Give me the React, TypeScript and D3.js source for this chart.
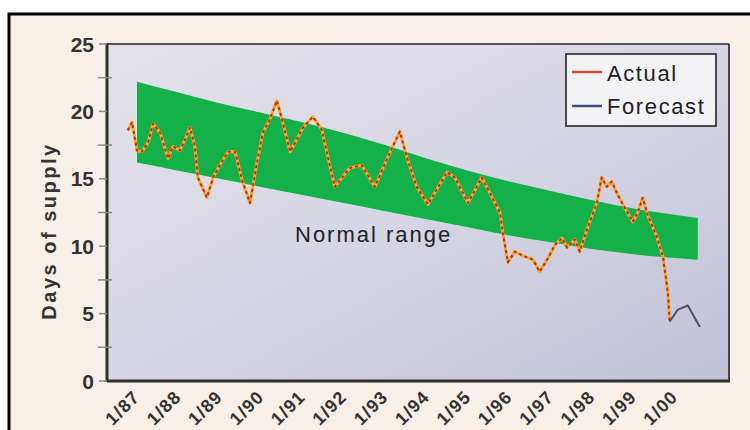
import React from "react";
import * as d3 from "d3";

const yTicks = [0, 5, 10, 15, 20, 25];
const yMinorTicks = [2.5, 7.5, 12.5, 17.5, 22.5];
const xTickYears = [1987, 1988, 1989, 1990, 1991, 1992, 1993, 1994, 1995, 1996, 1997, 1998, 1999, 2000];
const xTickLabels = ["1/87", "1/88", "1/89", "1/90", "1/91", "1/92", "1/93", "1/94", "1/95", "1/96", "1/97", "1/98", "1/99", "1/00"];

const bandYears = [1987, 1988, 1989, 1990, 1991, 1992, 1993, 1994, 1995, 1996, 1997, 1998, 1999, 2000.55];
const bandTop = [22.2, 21.4, 20.6, 19.9, 19.2, 18.4, 17.5, 16.5, 15.6, 14.8, 14.1, 13.4, 12.8, 12.1];
const bandBottom = [16.2, 15.6, 15.0, 14.4, 13.8, 13.2, 12.6, 12.0, 11.4, 10.8, 10.3, 9.8, 9.4, 9.0];

const actualYears = [
  1986.78, 1986.88, 1987.0, 1987.12, 1987.27, 1987.39, 1987.56, 1987.75, 1987.87, 1988.04,
  1988.16, 1988.28, 1988.4, 1988.47, 1988.69, 1988.84, 1989.0, 1989.2, 1989.37, 1989.54,
  1989.73, 1989.9, 1990.04, 1990.21, 1990.38, 1990.53, 1990.7, 1990.86, 1991.01, 1991.25,
  1991.47, 1991.59, 1991.78, 1992.14, 1992.43, 1992.75, 1993.06, 1993.35, 1993.52, 1993.76,
  1994.03, 1994.49, 1994.68, 1995.0, 1995.33, 1995.77, 1995.84, 1995.96, 1996.13, 1996.32,
  1996.57, 1996.73, 1996.93, 1997.1, 1997.27, 1997.39, 1997.58, 1997.7, 1997.87, 1998.11,
  1998.23, 1998.35, 1998.47, 1998.62, 1998.74, 1998.98, 1999.1, 1999.22, 1999.34, 1999.56,
  1999.71, 1999.83, 1999.87,
];
const actualValues = [
  18.6, 19.2, 17.1, 17.0, 17.7, 19.1, 18.4, 16.5, 17.4, 17.1,
  17.9, 18.8, 17.4, 15.1, 13.6, 15.1, 16.0, 17.0, 17.0, 14.9,
  13.2, 16.2, 18.4, 19.4, 20.8, 19.1, 17.0, 17.9, 18.8, 19.6,
  18.6, 16.9, 14.4, 15.8, 16.0, 14.4, 16.6, 18.5, 16.6, 14.4,
  13.1, 15.5, 15.1, 13.2, 15.1, 12.5, 11.0, 8.8, 9.6, 9.3,
  9.0, 8.1, 9.1, 10.1, 10.6, 9.9, 10.5, 9.6, 11.2, 13.2,
  15.1, 14.4, 14.8, 13.8, 13.1, 11.8, 12.5, 13.6, 12.3, 10.7,
  9.2, 6.5, 4.4,
];
const forecastYears = [1999.87, 2000.07, 2000.31, 2000.6];
const forecastValues = [4.4, 5.3, 5.6, 4.0];

const W = 750;
const H = 430;
const plot = { left: 107, right: 729, top: 44, bottom: 381 };

export default function App() {
  const x = d3.scaleLinear().domain([1987, 2000]).range([137, 675]);
  const y = d3.scaleLinear().domain([0, 25]).range([plot.bottom, plot.top]);

  const bandData = bandYears.map((yr, i) => ({ yr, t: bandTop[i], b: bandBottom[i] }));
  const area = d3
    .area<{ yr: number; t: number; b: number }>()
    .x((d) => x(d.yr))
    .y0((d) => y(d.b))
    .y1((d) => y(d.t))
    .curve(d3.curveMonotoneX);

  const line = d3
    .line<[number, number]>()
    .x((d) => x(d[0]))
    .y((d) => y(d[1]));

  const actual: [number, number][] = actualYears.map((yr, i) => [yr, actualValues[i]]);
  const forecast: [number, number][] = forecastYears.map((yr, i) => [yr, forecastValues[i]]);

  const font = "'Liberation Sans', Arial, sans-serif";

  return (
    <svg
      width={W}
      height={H}
      style={{ position: "absolute", left: 0, top: 0, display: "block" }}
      fontFamily={font}
    >
      <defs>
        <linearGradient id="bg" x1="0" y1="0" x2="1" y2="1">
          <stop offset="0" stopColor="#e4e3ea" />
          <stop offset="0.5" stopColor="#d6d5e3" />
          <stop offset="1" stopColor="#c2c2d9" />
        </linearGradient>
      </defs>
      <rect x={0} y={0} width={W} height={H} fill="#ffffff" />
      <rect x={9} y={14} width={W + 20} height={H + 20} fill="#f7f0e9" stroke="#000" strokeWidth={3} />

      {/* plot background */}
      <rect
        x={plot.left}
        y={plot.top}
        width={plot.right - plot.left}
        height={plot.bottom - plot.top}
        fill="url(#bg)"
      />

      {/* normal band */}
      <path d={area(bandData) || ""} fill="#14b04a" />

      <text x={295} y={242} fontSize={22} letterSpacing={2} fill="#222">
        Normal range
      </text>

      {/* lines */}
      <path d={line(actual) || ""} fill="none" stroke="#f0aa30" strokeWidth={3} strokeLinejoin="round" />
      <path
        d={line(actual) || ""}
        fill="none"
        stroke="#c42a1e"
        strokeWidth={2}
        strokeDasharray="3,3"
        strokeLinejoin="round"
      />
      <path d={line(forecast) || ""} fill="none" stroke="#4a5272" strokeWidth={2} strokeLinejoin="round" />

      {/* frame */}
      <line x1={plot.left} x2={plot.right} y1={plot.top} y2={plot.top} stroke="#555" strokeWidth={2} />
      <line x1={plot.right} x2={plot.right} y1={plot.top} y2={plot.bottom} stroke="#444" strokeWidth={2} />
      <line x1={plot.left} x2={plot.left} y1={plot.top - 1} y2={plot.bottom + 1} stroke="#2f2f2f" strokeWidth={3} />
      <line x1={plot.left} x2={plot.right + 1} y1={plot.bottom} y2={plot.bottom} stroke="#2f2f2f" strokeWidth={3} />

      {/* y ticks */}
      {yMinorTicks.map((v) => (
        <line key={"m" + v} x1={98} x2={112} y1={y(v)} y2={y(v)} stroke="#8a8a8a" strokeWidth={1.5} />
      ))}
      {yTicks.map((v) => (
        <g key={"t" + v}>
          <line x1={99} x2={107} y1={y(v)} y2={y(v)} stroke="#8a8a8a" strokeWidth={1.5} />
          <text x={94} y={y(v)} dy="0.36em" textAnchor="end" fontSize={21} fontWeight="bold" fill="#333">
            {v}
          </text>
        </g>
      ))}

      <text
        transform={`translate(56,231) rotate(-90)`}
        textAnchor="middle"
        fontSize={20}
        fontWeight="bold"
        letterSpacing={2.5}
        fill="#333"
      >
        Days of supply
      </text>

      {/* x labels */}
      {xTickYears.map((yr, i) => (
        <text
          key={yr}
          transform={`translate(${x(yr) + 4},${398}) rotate(-45)`}
          textAnchor="end"
          fontSize={18}
          fontWeight="bold"
          letterSpacing={1.2}
          fill="#333"
        >
          {xTickLabels[i]}
        </text>
      ))}

      {/* legend */}
      <rect x={566} y={54} width={150} height={72} fill="#f3f2f5" stroke="#4a4a4a" strokeWidth={2} />
      <line x1={572} x2={602} y1={72} y2={72} stroke="#d04a38" strokeWidth={2.5} />
      <text x={607} y={81} fontSize={22} letterSpacing={1.6} fill="#222">
        Actual
      </text>
      <line x1={572} x2={602} y1={106} y2={106} stroke="#3e4a7a" strokeWidth={2.5} />
      <text x={607} y={114} fontSize={22} letterSpacing={1.6} fill="#222">
        Forecast
      </text>
    </svg>
  );
}
